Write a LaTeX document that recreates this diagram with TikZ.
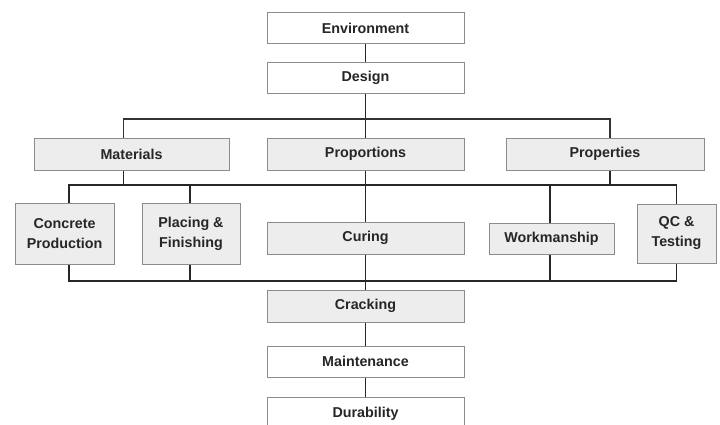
\documentclass[tikz,border=0pt]{standalone}
\usepackage{fontspec}
\setmainfont{Liberation Sans}
\usetikzlibrary{backgrounds}
\begin{document}
\begin{tikzpicture}[x=1pt,y=-1pt,
  box/.style={draw=black!45, line width=0.8pt, fill=white, minimum width=197pt, minimum height=31pt, inner sep=1pt,
    font=\fontsize{14.3}{20}\selectfont\bfseries, align=center, text=black!85},
  gbox/.style={box, fill=black!7},
  conn/.style={draw=black!85, line width=1.1pt},
  bus/.style={draw=black!80, line width=1.8pt}]
\useasboundingbox (0,0) rectangle (720,425);
\node[box] (env) at (365.5,28) {Environment};
\node[box] (des) at (365.5,78) {Design};
\node[gbox, minimum width=195pt, minimum height=32pt] (mat) at (131.5,154) {Materials};
\node[gbox, minimum height=32pt] (pro) at (365.5,154) {Proportions};
\node[gbox, minimum width=198pt, minimum height=32pt] (prp) at (605,154) {Properties};
\node[gbox, minimum width=99pt, minimum height=61pt] (cp) at (64.5,233.5) {Concrete\\Production};
\node[gbox, minimum width=98pt, minimum height=61pt] (pf) at (191,233.5) {Placing \&\\Finishing};
\node[gbox, minimum height=32pt] (cur) at (365.5,238) {Curing};
\node[gbox, minimum width=125pt, minimum height=31pt] (wm) at (551.5,238.5) {Workmanship};
\node[gbox, minimum width=79pt, minimum height=59pt] (qc) at (676.5,233.5) {QC \&\\Testing};
\node[gbox, minimum height=32pt] (crk) at (365.5,306) {Cracking};
\node[box] (mnt) at (365.5,361.5) {Maintenance};
\node[box, minimum height=33pt] (dur) at (365.5,414) {Durability};
\coordinate (btop) at (365.5,119);
\coordinate (bmid) at (365.5,185);
\coordinate (bbot) at (365.5,281);
\begin{scope}[on background layer]
% top level
\draw[conn] (env.south) -- (des.north);
\draw[conn] (des.south) -- (pro.north);
\draw[bus] ([xshift=-8pt]mat.north) |- (btop) -| ([xshift=5pt]prp.north);
% middle bus
\draw[conn] ([xshift=-8pt]mat.south) -- ([xshift=-8pt]mat.south |- bmid);
\draw[conn] ([xshift=5pt]prp.south) -- ([xshift=5pt]prp.south |- bmid);
\draw[conn] ([xshift=4.5pt]cp.north) |- (bmid) -| (qc.north);
\draw[conn] ([xshift=-1pt]pf.north) -- ([xshift=-1pt]pf.north |- bmid);
\draw[conn] ([xshift=-1.5pt]wm.north) -- ([xshift=-1.5pt]wm.north |- bmid);
\draw[conn] (pro.south) -- (cur.north);
% bottom bus
\draw[conn] ([xshift=4.5pt]cp.south) |- (bbot) -| (qc.south);
\draw[conn] ([xshift=-1pt]pf.south) -- ([xshift=-1pt]pf.south |- bbot);
\draw[conn] ([xshift=-1.5pt]wm.south) -- ([xshift=-1.5pt]wm.south |- bbot);
\draw[conn] (cur.south) -- (crk.north);
\draw[conn] (crk.south) -- (mnt.north);
\draw[conn] (mnt.south) -- (dur.north);
\end{scope}
\end{tikzpicture}
\end{document}
